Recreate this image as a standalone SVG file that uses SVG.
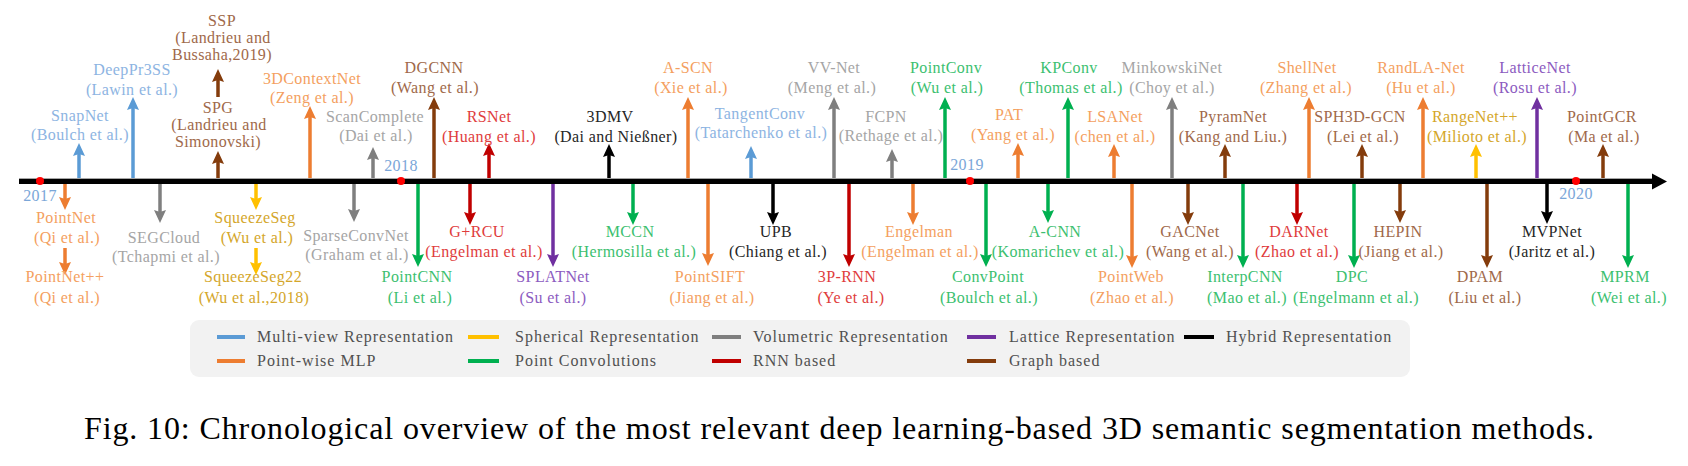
<svg xmlns="http://www.w3.org/2000/svg" width="1688" height="466" viewBox="0 0 1688 466">
<style>
text{font-family:"Liberation Serif","Times New Roman",serif;font-size:16px;letter-spacing:0.4px;text-anchor:middle}
.t-mv{fill:#8db4e2}.t-pw{fill:#f4a060}.t-sp{fill:#d4a62a}.t-pc{fill:#3cbf70}.t-vo{fill:#a5a5a5}
.t-rn{fill:#e03c3c}.t-la{fill:#8c5bbf}.t-gr{fill:#a0694a}.t-hy{fill:#262626}
.yr{fill:#7aa6d8}
line.a{stroke-width:3.5;fill:none}
.a-mv{stroke:#5b9bd5;marker-end:url(#m-mv)}.a-pw{stroke:#ed7d31;marker-end:url(#m-pw)}
.a-sp{stroke:#ffc000;marker-end:url(#m-sp)}.a-pc{stroke:#00b050;marker-end:url(#m-pc)}
.a-vo{stroke:#7f7f7f;marker-end:url(#m-vo)}.a-rn{stroke:#c00000;marker-end:url(#m-rn)}
.a-la{stroke:#7030a0;marker-end:url(#m-la)}.a-gr{stroke:#843c0c;marker-end:url(#m-gr)}
.a-hy{stroke:#000000;marker-end:url(#m-hy)}
.lg{text-anchor:start;fill:#505050;letter-spacing:1px}
.sw{stroke-width:4}
.cap{font-size:32px;letter-spacing:0;text-anchor:start;fill:#000}
</style>
<defs>
<marker id="m-mv" viewBox="0 0 13 12" markerWidth="13" markerHeight="12" refX="3" refY="6" orient="auto" markerUnits="userSpaceOnUse"><path d="M0,0 L13,6 L0,12 L2,6 z" fill="#5b9bd5"/></marker>
<marker id="m-pw" viewBox="0 0 13 12" markerWidth="13" markerHeight="12" refX="3" refY="6" orient="auto" markerUnits="userSpaceOnUse"><path d="M0,0 L13,6 L0,12 L2,6 z" fill="#ed7d31"/></marker>
<marker id="m-sp" viewBox="0 0 13 12" markerWidth="13" markerHeight="12" refX="3" refY="6" orient="auto" markerUnits="userSpaceOnUse"><path d="M0,0 L13,6 L0,12 L2,6 z" fill="#ffc000"/></marker>
<marker id="m-pc" viewBox="0 0 13 12" markerWidth="13" markerHeight="12" refX="3" refY="6" orient="auto" markerUnits="userSpaceOnUse"><path d="M0,0 L13,6 L0,12 L2,6 z" fill="#00b050"/></marker>
<marker id="m-vo" viewBox="0 0 13 12" markerWidth="13" markerHeight="12" refX="3" refY="6" orient="auto" markerUnits="userSpaceOnUse"><path d="M0,0 L13,6 L0,12 L2,6 z" fill="#7f7f7f"/></marker>
<marker id="m-rn" viewBox="0 0 13 12" markerWidth="13" markerHeight="12" refX="3" refY="6" orient="auto" markerUnits="userSpaceOnUse"><path d="M0,0 L13,6 L0,12 L2,6 z" fill="#c00000"/></marker>
<marker id="m-la" viewBox="0 0 13 12" markerWidth="13" markerHeight="12" refX="3" refY="6" orient="auto" markerUnits="userSpaceOnUse"><path d="M0,0 L13,6 L0,12 L2,6 z" fill="#7030a0"/></marker>
<marker id="m-gr" viewBox="0 0 13 12" markerWidth="13" markerHeight="12" refX="3" refY="6" orient="auto" markerUnits="userSpaceOnUse"><path d="M0,0 L13,6 L0,12 L2,6 z" fill="#843c0c"/></marker>
<marker id="m-hy" viewBox="0 0 13 12" markerWidth="13" markerHeight="12" refX="3" refY="6" orient="auto" markerUnits="userSpaceOnUse"><path d="M0,0 L13,6 L0,12 L2,6 z" fill="#000000"/></marker>
</defs>
<rect width="1688" height="466" fill="#ffffff"/>

<g id="connectors">
<line class="a a-mv" x1="79" y1="181" x2="79" y2="153"/>
<line class="a a-mv" x1="133" y1="181" x2="133" y2="107"/>
<line class="a a-gr" x1="218" y1="181" x2="218" y2="161"/>
<line class="a a-gr" x1="218" y1="97" x2="218" y2="79"/>
<line class="a a-pw" x1="310" y1="181" x2="310" y2="116"/>
<line class="a a-vo" x1="373" y1="181" x2="373" y2="157"/>
<line class="a a-gr" x1="434" y1="181" x2="434" y2="107"/>
<line class="a a-rn" x1="489" y1="181" x2="489" y2="153"/>
<line class="a a-hy" x1="609" y1="181" x2="609" y2="154"/>
<line class="a a-pw" x1="688" y1="181" x2="688" y2="107"/>
<line class="a a-mv" x1="751" y1="181" x2="751" y2="156"/>
<line class="a a-vo" x1="834" y1="181" x2="834" y2="107"/>
<line class="a a-vo" x1="892" y1="181" x2="892" y2="159"/>
<line class="a a-pc" x1="945" y1="181" x2="945" y2="107"/>
<line class="a a-pw" x1="1018" y1="181" x2="1018" y2="153"/>
<line class="a a-pc" x1="1068" y1="181" x2="1068" y2="107"/>
<line class="a a-pw" x1="1114" y1="181" x2="1114" y2="154"/>
<line class="a a-vo" x1="1172" y1="181" x2="1172" y2="107"/>
<line class="a a-gr" x1="1225" y1="181" x2="1225" y2="154"/>
<line class="a a-pw" x1="1309" y1="181" x2="1309" y2="107"/>
<line class="a a-gr" x1="1362" y1="181" x2="1362" y2="154"/>
<line class="a a-pw" x1="1423" y1="181" x2="1423" y2="107"/>
<line class="a a-sp" x1="1476" y1="181" x2="1476" y2="154"/>
<line class="a a-la" x1="1537" y1="181" x2="1537" y2="107"/>
<line class="a a-gr" x1="1603" y1="181" x2="1603" y2="154"/>

<line class="a a-pw" x1="65" y1="181" x2="65" y2="200"/>
<line class="a a-pw" x1="65" y1="248" x2="65" y2="265"/>
<line class="a a-vo" x1="160" y1="181" x2="160" y2="213"/>
<line class="a a-sp" x1="256" y1="181" x2="256" y2="200"/>
<line class="a a-sp" x1="256" y1="248" x2="256" y2="265"/>
<line class="a a-vo" x1="354" y1="181" x2="354" y2="212"/>
<line class="a a-pc" x1="418" y1="181" x2="418" y2="257"/>
<line class="a a-rn" x1="470" y1="181" x2="470" y2="215"/>
<line class="a a-la" x1="553" y1="181" x2="553" y2="257"/>
<line class="a a-pc" x1="633" y1="181" x2="633" y2="215"/>
<line class="a a-pw" x1="708" y1="181" x2="708" y2="256"/>
<line class="a a-hy" x1="773" y1="181" x2="773" y2="215"/>
<line class="a a-rn" x1="849" y1="181" x2="849" y2="257"/>
<line class="a a-pw" x1="913" y1="181" x2="913" y2="215"/>
<line class="a a-pc" x1="986" y1="181" x2="986" y2="257"/>
<line class="a a-pc" x1="1048" y1="181" x2="1048" y2="213"/>
<line class="a a-pw" x1="1132" y1="181" x2="1132" y2="258"/>
<line class="a a-gr" x1="1188" y1="181" x2="1188" y2="215"/>
<line class="a a-pc" x1="1243" y1="181" x2="1243" y2="258"/>
<line class="a a-rn" x1="1297" y1="181" x2="1297" y2="215"/>
<line class="a a-pc" x1="1354" y1="181" x2="1354" y2="258"/>
<line class="a a-gr" x1="1400" y1="181" x2="1400" y2="213"/>
<line class="a a-gr" x1="1487" y1="181" x2="1487" y2="258"/>
<line class="a a-hy" x1="1547" y1="181" x2="1547" y2="214"/>
<line class="a a-pc" x1="1628" y1="181" x2="1628" y2="258"/>
</g>

<g id="timeline">
<line x1="19" y1="178.5" x2="1655" y2="178.5" stroke="#a6a6a6" stroke-width="1"/>
<line x1="19" y1="181.5" x2="1655" y2="181.5" stroke="#000" stroke-width="5"/>
<path d="M1652,173.5 L1667,181.5 L1652,189.5 z" fill="#000"/>
<circle cx="40" cy="181" r="4" fill="#ff0000"/>
<circle cx="401" cy="181" r="4" fill="#ff0000"/>
<circle cx="970" cy="181" r="4" fill="#ff0000"/>
<circle cx="1576" cy="181" r="4" fill="#ff0000"/>
<text class="yr" x="40" y="201">2017</text>
<text class="yr" x="401" y="171">2018</text>
<text class="yr" x="967" y="170">2019</text>
<text class="yr" x="1576" y="199">2020</text>
</g>

<g id="n-snapnet" class="t-mv"><text x="80" y="121">SnapNet</text><text x="80" y="140">(Boulch et al.)</text></g>
<g id="n-deeppr3ss" class="t-mv"><text x="132" y="75">DeepPr3SS</text><text x="132" y="95">(Lawin et al.)</text></g>
<g id="n-spg" class="t-gr"><text x="218" y="113">SPG</text><text x="219" y="130">(Landrieu and</text><text x="218" y="147">Simonovski)</text></g>
<g id="n-ssp" class="t-gr"><text x="222" y="26">SSP</text><text x="223" y="43">(Landrieu and</text><text x="222" y="60">Bussaha,2019)</text></g>
<g id="n-3dcontextnet" class="t-pw"><text x="312" y="84">3DContextNet</text><text x="312" y="103">(Zeng et al.)</text></g>
<g id="n-scancomplete" class="t-vo"><text x="375" y="122">ScanComplete</text><text x="376" y="141">(Dai et al.)</text></g>
<g id="n-dgcnn" class="t-gr"><text x="434" y="73">DGCNN</text><text x="435" y="93">(Wang et al.)</text></g>
<g id="n-rsnet" class="t-rn"><text x="489" y="122">RSNet</text><text x="489" y="142">(Huang et al.)</text></g>
<g id="n-3dmv" class="t-hy"><text x="610" y="122">3DMV</text><text x="616" y="142">(Dai and Nießner)</text></g>
<g id="n-ascn" class="t-pw"><text x="688" y="73">A-SCN</text><text x="691" y="93">(Xie et al.)</text></g>
<g id="n-tangentconv" class="t-mv"><text x="760" y="119">TangentConv</text><text x="761" y="138">(Tatarchenko et al.)</text></g>
<g id="n-vvnet" class="t-vo"><text x="834" y="73">VV-Net</text><text x="832" y="93">(Meng et al.)</text></g>
<g id="n-fcpn" class="t-vo"><text x="886" y="122">FCPN</text><text x="891" y="141">(Rethage et al.)</text></g>
<g id="n-pointconv" class="t-pc"><text x="946" y="73">PointConv</text><text x="947" y="93">(Wu et al.)</text></g>
<g id="n-pat" class="t-pw"><text x="1009" y="120">PAT</text><text x="1013" y="140">(Yang et al.)</text></g>
<g id="n-kpconv" class="t-pc"><text x="1069" y="73">KPConv</text><text x="1071" y="93">(Thomas et al.)</text></g>
<g id="n-lsanet" class="t-pw"><text x="1115" y="122">LSANet</text><text x="1115" y="142">(chen et al.)</text></g>
<g id="n-minkowskinet" class="t-vo"><text x="1172" y="73">MinkowskiNet</text><text x="1172" y="93">(Choy et al.)</text></g>
<g id="n-pyramnet" class="t-gr"><text x="1233" y="122">PyramNet</text><text x="1233" y="142">(Kang and Liu.)</text></g>
<g id="n-shellnet" class="t-pw"><text x="1307" y="73">ShellNet</text><text x="1306" y="93">(Zhang et al.)</text></g>
<g id="n-sph3dgcn" class="t-gr"><text x="1360" y="122">SPH3D-GCN</text><text x="1363" y="142">(Lei et al.)</text></g>
<g id="n-randlanet" class="t-pw"><text x="1421" y="73">RandLA-Net</text><text x="1421" y="93">(Hu et al.)</text></g>
<g id="n-rangenet" class="t-sp"><text x="1475" y="122">RangeNet++</text><text x="1477" y="142">(Milioto et al.)</text></g>
<g id="n-latticenet" class="t-la"><text x="1535" y="73">LatticeNet</text><text x="1535" y="93">(Rosu et al.)</text></g>
<g id="n-pointgcr" class="t-gr"><text x="1602" y="122">PointGCR</text><text x="1604" y="142">(Ma et al.)</text></g>

<g id="n-pointnet" class="t-pw"><text x="66" y="223">PointNet</text><text x="67" y="243">(Qi et al.)</text></g>
<g id="n-pointnetpp" class="t-pw"><text x="65" y="282">PointNet++</text><text x="67" y="303">(Qi et al.)</text></g>
<g id="n-segcloud" class="t-vo"><text x="164" y="243">SEGCloud</text><text x="166" y="262">(Tchapmi et al.)</text></g>
<g id="n-squeezeseg" class="t-sp"><text x="255" y="223">SqueezeSeg</text><text x="257" y="243">(Wu et al.)</text></g>
<g id="n-squeezeseg2" class="t-sp"><text x="253" y="282">SqueezeSeg22</text><text x="254" y="303">(Wu et al.,2018)</text></g>
<g id="n-sparseconvnet" class="t-vo"><text x="356" y="241">SparseConvNet</text><text x="357" y="260">(Graham et al.)</text></g>
<g id="n-pointcnn" class="t-pc"><text x="417" y="282">PointCNN</text><text x="420" y="303">(Li et al.)</text></g>
<g id="n-grcu" class="t-rn"><text x="477" y="237">G+RCU</text><text x="484" y="257">(Engelman et al.)</text></g>
<g id="n-splatnet" class="t-la"><text x="553" y="282">SPLATNet</text><text x="553" y="303">(Su et al.)</text></g>
<g id="n-mccn" class="t-pc"><text x="630" y="237">MCCN</text><text x="634" y="257">(Hermosilla et al.)</text></g>
<g id="n-pointsift" class="t-pw"><text x="710" y="282">PointSIFT</text><text x="712" y="303">(Jiang et al.)</text></g>
<g id="n-upb" class="t-hy"><text x="776" y="237">UPB</text><text x="778" y="257">(Chiang et al.)</text></g>
<g id="n-3prnn" class="t-rn"><text x="847" y="282">3P-RNN</text><text x="851" y="303">(Ye et al.)</text></g>
<g id="n-engelman" class="t-pw"><text x="919" y="237">Engelman</text><text x="920" y="257">(Engelman et al.)</text></g>
<g id="n-convpoint" class="t-pc"><text x="988" y="282">ConvPoint</text><text x="989" y="303">(Boulch et al.)</text></g>
<g id="n-acnn" class="t-pc"><text x="1055" y="237">A-CNN</text><text x="1058" y="257">(Komarichev et al.)</text></g>
<g id="n-pointweb" class="t-pw"><text x="1131" y="282">PointWeb</text><text x="1132" y="303">(Zhao et al.)</text></g>
<g id="n-gacnet" class="t-gr"><text x="1190" y="237">GACNet</text><text x="1190" y="257">(Wang et al.)</text></g>
<g id="n-interpcnn" class="t-pc"><text x="1245" y="282">InterpCNN</text><text x="1247" y="303">(Mao et al.)</text></g>
<g id="n-darnet" class="t-rn"><text x="1299" y="237">DARNet</text><text x="1297" y="257">(Zhao et al.)</text></g>
<g id="n-dpc" class="t-pc"><text x="1352" y="282">DPC</text><text x="1356" y="303">(Engelmann et al.)</text></g>
<g id="n-hepin" class="t-gr"><text x="1398" y="237">HEPIN</text><text x="1401" y="257">(Jiang et al.)</text></g>
<g id="n-dpam" class="t-gr"><text x="1480" y="282">DPAM</text><text x="1485" y="303">(Liu et al.)</text></g>
<g id="n-mvpnet" class="t-hy"><text x="1552" y="237">MVPNet</text><text x="1552" y="257">(Jaritz et al.)</text></g>
<g id="n-mprm" class="t-pc"><text x="1625" y="282">MPRM</text><text x="1629" y="303">(Wei et al.)</text></g>

<g id="legend">
<rect x="190" y="320" width="1220" height="57" rx="9" fill="#f2f2f2"/>
<line class="sw" x1="217" y1="337" x2="245" y2="337" stroke="#5b9bd5"/>
<text class="lg" x="257" y="342">Multi-view Representation</text>
<line class="sw" x1="468" y1="337" x2="499" y2="337" stroke="#ffc000"/>
<text class="lg" x="515" y="342">Spherical Representation</text>
<line class="sw" x1="712" y1="337" x2="741" y2="337" stroke="#7f7f7f"/>
<text class="lg" x="753" y="342">Volumetric Representation</text>
<line class="sw" x1="967" y1="337" x2="996" y2="337" stroke="#7030a0"/>
<text class="lg" x="1009" y="342">Lattice Representation</text>
<line class="sw" x1="1184" y1="337" x2="1214" y2="337" stroke="#000000"/>
<text class="lg" x="1226" y="342">Hybrid Representation</text>
<line class="sw" x1="217" y1="361" x2="245" y2="361" stroke="#ed7d31"/>
<text class="lg" x="257" y="366">Point-wise MLP</text>
<line class="sw" x1="468" y1="361" x2="499" y2="361" stroke="#00b050"/>
<text class="lg" x="515" y="366">Point Convolutions</text>
<line class="sw" x1="712" y1="361" x2="741" y2="361" stroke="#c00000"/>
<text class="lg" x="753" y="366">RNN based</text>
<line class="sw" x1="967" y1="361" x2="996" y2="361" stroke="#843c0c"/>
<text class="lg" x="1009" y="366">Graph based</text>
</g>

<text class="cap" x="84" y="439" textLength="1510">Fig. 10: Chronological overview of the most relevant deep learning-based 3D semantic segmentation methods.</text>
</svg>
